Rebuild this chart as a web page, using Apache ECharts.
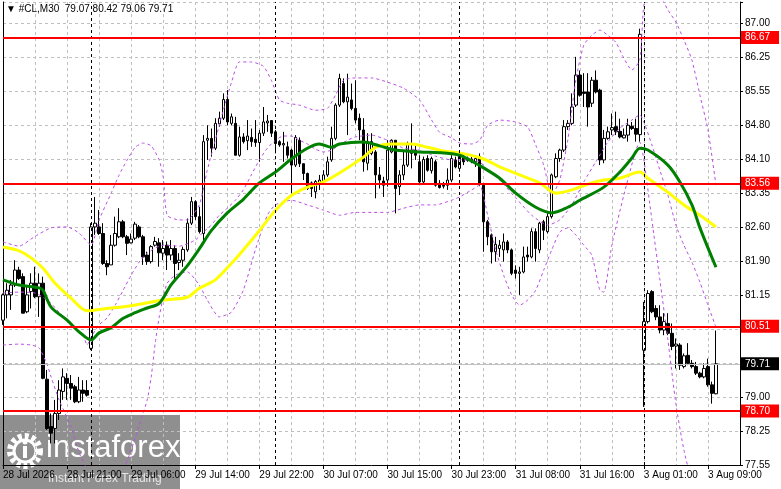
<!DOCTYPE html>
<html lang="en">
<head>
	<meta charset="UTF-8">
	<title>#CL,M30</title>
	<script src="https://cdn.jsdelivr.net/npm/echarts@6/dist/echarts.min.js"></script>
	<style>
		html, body { margin: 0; padding: 0; background: #fff; }
		#main { width: 781px; height: 489px; }
	</style>
</head>
<body>
	<div id="main"></div>
	<script>
		// 30 minute bars (bar 0 = 28 Jul 13:00, bar 178 = 3 Aug 10:00)
		var opens = [
			80.64, 81.18, 81.18, 81.39, 81.71, 81.57, 80.82, 81.25, 81.43, 81.14,
			81.43, 79.38, 78.37, 78.33, 78.65, 79.12, 79.40, 79.29, 79.22, 78.90,
			79.15, 79.14, 80.04, 82.63, 82.63, 82.49, 81.85, 81.82, 82.24, 82.42,
			82.74, 82.42, 82.29, 82.39, 82.63, 82.42, 82.03, 81.89, 82.24, 82.29,
			82.07, 82.24, 82.03, 82.17, 81.87, 81.92, 82.14, 82.71, 83.17, 82.85,
			82.49, 84.48, 84.52, 84.31, 84.83, 84.95, 85.35, 84.84, 84.84, 84.16,
			84.55, 84.47, 84.54, 84.50, 84.43, 84.63, 84.85, 84.90, 84.66, 84.45,
			84.38, 84.34, 84.27, 83.95, 84.48, 83.98, 83.77, 83.57, 83.38, 83.56,
			83.60, 83.74, 84.06, 84.52, 85.23, 85.69, 85.30, 85.34, 85.16, 84.95,
			84.70, 83.99, 84.20, 84.23, 83.74, 83.61, 83.63, 84.23, 84.48, 83.49,
			83.74, 83.95, 84.20, 84.27, 84.02, 83.59, 84.09, 83.83, 84.02, 83.56,
			83.52, 83.52, 83.63, 84.06, 83.88, 84.14, 84.05, 84.08, 84.02, 84.13,
			83.52, 82.74, 82.46, 82.10, 82.17, 82.14, 82.31, 82.14, 81.71, 81.64,
			81.67, 82.03, 81.99, 82.53, 82.14, 82.74, 82.53, 82.85, 83.70, 84.09,
			84.27, 84.77, 84.84, 85.23, 85.87, 85.51, 85.51, 85.27, 85.76, 85.55,
			84.06, 84.52, 84.70, 84.77, 84.67, 84.53, 84.59, 84.78, 84.73, 84.60,
			80.00, 80.61, 81.25, 80.89, 80.71, 80.43, 80.57, 80.36, 80.09, 80.11,
			79.65, 79.89, 79.72, 79.65, 79.51, 79.43, 79.65, 79.26, 79.07
		]
		var closes = [
			81.18, 81.28, 81.39, 81.71, 81.53, 80.79, 81.18, 81.43, 81.14, 81.43,
			79.40, 78.33, 78.23, 78.65, 79.15, 79.43, 79.29, 79.19, 78.90, 79.15,
			79.08, 79.04, 82.63, 82.71, 82.49, 81.85, 81.78, 82.24, 82.49, 82.74,
			82.42, 82.28, 82.37, 82.69, 82.42, 81.99, 81.89, 82.21, 82.32, 82.08,
			82.17, 82.03, 82.17, 81.85, 81.92, 82.15, 82.71, 83.17, 82.85, 82.53,
			84.45, 84.52, 84.31, 84.84, 84.95, 85.35, 84.87, 84.98, 84.16, 84.55,
			84.45, 84.57, 84.45, 84.43, 84.63, 84.87, 84.89, 84.63, 84.41, 84.38,
			84.41, 84.16, 83.95, 84.54, 83.98, 83.77, 83.45, 83.45, 83.60, 83.63,
			83.74, 84.02, 84.52, 85.23, 85.80, 85.30, 85.40, 85.16, 84.91, 84.70,
			84.02, 84.45, 84.45, 83.74, 83.63, 83.52, 84.27, 84.48, 83.45, 83.74,
			83.95, 84.41, 84.27, 84.16, 83.59, 84.07, 83.84, 84.09, 83.52, 83.47,
			83.50, 83.63, 84.09, 83.91, 84.16, 84.02, 84.07, 84.02, 84.09, 83.56,
			82.74, 82.42, 82.10, 82.26, 82.24, 82.31, 82.14, 81.64, 81.64, 81.67,
			81.99, 81.99, 82.53, 82.17, 82.71, 82.56, 82.85, 83.74, 84.09, 84.27,
			84.77, 84.84, 85.19, 85.87, 85.44, 85.48, 85.19, 85.76, 85.51, 84.06,
			84.52, 84.66, 84.75, 84.66, 84.55, 84.59, 84.80, 84.73, 84.61, 86.74,
			80.61, 81.21, 80.82, 80.71, 80.43, 80.61, 80.36, 80.08, 80.13, 79.68,
			79.88, 79.72, 79.65, 79.51, 79.43, 79.61, 79.26, 79.08, 79.71
		]
		var lows = [
			80.54, 80.68, 80.86, 81.35, 81.50, 80.79, 80.79, 80.89, 81.11, 80.71,
			79.38, 78.30, 78.01, 78.01, 78.51, 78.94, 78.94, 78.94, 78.87, 78.87,
			78.90, 79.01, 80.00, 82.46, 82.46, 81.82, 81.60, 81.82, 82.21, 82.39,
			82.39, 82.03, 82.28, 82.35, 82.39, 81.82, 81.82, 81.85, 82.21, 81.78,
			81.92, 81.71, 81.92, 81.50, 81.71, 81.78, 82.10, 82.67, 82.78, 82.49,
			82.35, 84.06, 84.13, 84.27, 84.77, 84.91, 84.80, 84.80, 84.16, 84.13,
			84.41, 84.27, 84.34, 84.34, 84.02, 84.57, 84.66, 84.55, 84.20, 84.34,
			84.02, 84.09, 83.35, 83.91, 83.91, 83.63, 83.42, 83.27, 83.24, 83.42,
			83.56, 83.70, 84.02, 84.48, 85.19, 85.27, 84.59, 85.12, 84.84, 84.48,
			83.81, 83.84, 84.16, 83.24, 83.45, 83.27, 83.49, 84.20, 82.92, 83.31,
			83.63, 83.91, 83.88, 84.06, 83.52, 83.56, 83.81, 83.77, 83.49, 83.45,
			83.45, 83.42, 83.59, 83.88, 83.81, 83.95, 84.02, 83.99, 83.91, 83.50,
			82.10, 82.24, 81.85, 81.89, 81.99, 81.89, 82.07, 81.60, 81.53, 81.18,
			81.64, 81.89, 81.96, 81.89, 82.07, 82.35, 82.49, 82.81, 83.67, 84.02,
			84.23, 84.70, 84.80, 85.19, 85.41, 85.19, 84.77, 85.19, 85.48, 83.95,
			83.99, 84.49, 84.59, 84.59, 84.52, 84.52, 84.45, 84.70, 84.45, 84.45,
			78.79, 80.57, 80.79, 80.64, 80.36, 80.32, 80.32, 80.00, 79.61, 79.58,
			79.61, 79.68, 79.61, 79.47, 79.40, 79.40, 79.22, 78.86, 79.06
		]
		var highs = [
			81.21, 81.43, 81.50, 81.92, 81.78, 81.64, 81.35, 81.64, 81.78, 81.64,
			81.57, 79.58, 78.65, 78.94, 79.36, 79.61, 79.51, 79.47, 79.26, 79.43,
			79.36, 79.36, 82.71, 83.27, 82.99, 82.71, 81.92, 82.46, 82.85, 83.03,
			82.78, 82.46, 82.49, 82.74, 82.67, 82.46, 82.10, 82.24, 82.42, 82.39,
			82.35, 82.32, 82.35, 82.24, 82.07, 82.21, 82.81, 83.27, 83.20, 83.06,
			84.59, 84.80, 84.73, 84.95, 85.09, 85.48, 85.55, 85.05, 84.98, 84.77,
			84.63, 84.91, 84.73, 84.91, 84.70, 85.19, 85.02, 84.91, 84.70, 84.48,
			84.66, 84.45, 84.30, 84.59, 84.54, 83.98, 83.79, 83.60, 83.63, 83.74,
			83.84, 84.13, 84.77, 85.27, 85.90, 85.80, 85.90, 85.69, 85.76, 85.05,
			84.95, 84.63, 84.63, 84.27, 83.91, 83.70, 84.48, 84.50, 84.48, 83.84,
			84.27, 84.45, 84.84, 84.41, 84.16, 84.13, 84.16, 84.13, 84.06, 83.63,
			83.59, 83.88, 84.16, 84.13, 84.23, 84.20, 84.13, 84.13, 84.16, 84.20,
			83.56, 82.78, 82.49, 82.42, 82.35, 82.49, 82.35, 82.17, 81.81, 81.78,
			82.21, 82.21, 82.60, 82.60, 82.74, 82.78, 82.92, 83.77, 84.20, 84.30,
			84.91, 84.91, 85.48, 86.26, 85.97, 85.91, 85.91, 85.83, 85.97, 85.58,
			84.70, 84.77, 85.05, 85.09, 84.94, 84.73, 84.94, 84.87, 84.94, 86.86,
			81.03, 81.28, 81.28, 80.96, 80.96, 80.79, 80.79, 80.57, 80.25, 80.15,
			79.93, 80.15, 79.79, 79.75, 79.54, 79.72, 79.82, 79.33, 80.42
		]

		// indicator lines, sampled as [bar, price]
		var maGreen = [
			[0, 81.50], [4, 81.39], [9, 81.33], [10, 81.28], [12, 80.92], [16, 80.64], [19, 80.39],
			[22, 80.22], [24, 80.37], [27, 80.48], [30, 80.68], [33, 80.80], [36, 80.90], [39, 81.00],
			[42, 81.40], [46, 81.80], [49, 82.16], [52, 82.55], [56, 82.93], [60, 83.22], [64, 83.57],
			[68, 83.80], [72, 84.08], [76, 84.31], [79, 84.40], [82, 84.33], [84, 84.40], [90, 84.44],
			[94, 84.36], [98, 84.27], [104, 84.23], [110, 84.21], [114, 84.16], [118, 83.99], [120, 83.89],
			[124, 83.67], [128, 83.35], [133, 83.05], [137, 82.93], [141, 83.05], [144, 83.20], [150, 83.48],
			[154, 83.80], [157, 84.10], [159, 84.31], [161, 84.27], [166, 83.95], [169, 83.59], [172, 83.10],
			[174, 82.61], [178, 81.77]
		]
		var maYellow = [
			[0, 82.20], [4, 82.12], [7, 81.97], [10, 81.75], [13, 81.43], [17, 81.11], [21, 80.84],
			[24, 80.87], [32, 80.95], [40, 81.07], [46, 81.13], [49, 81.32], [53, 81.50], [57, 81.85],
			[60, 82.14], [64, 82.55], [68, 82.98], [72, 83.30], [76, 83.48], [80, 83.59], [84, 83.78],
			[90, 84.12], [93, 84.33], [97, 84.40], [102, 84.40], [106, 84.33], [110, 84.25], [114, 84.21],
			[120, 84.08], [124, 83.91], [129, 83.74], [134, 83.57], [138, 83.35], [142, 83.42], [147, 83.57],
			[150, 83.63], [154, 83.67], [159, 83.80], [161, 83.67], [166, 83.37], [170, 83.10], [174, 82.88],
			[178, 82.63]
		]
		var bbUpper = [
			[0, 82.31], [4, 82.22], [8, 82.43], [12, 82.61], [16, 82.63], [19, 82.50], [22, 82.24],
			[24, 82.78], [27, 83.35], [29, 83.74], [31, 84.06], [33, 84.33], [35, 84.42], [37, 84.36],
			[39, 84.06], [40, 83.69], [41, 82.88], [44, 82.78], [46, 82.78], [49, 83.10], [51, 83.84],
			[53, 84.48], [55, 85.12], [57, 85.70], [59, 86.15], [62, 86.15], [65, 86.06], [67, 85.76],
			[69, 85.34], [71, 85.27], [74, 85.23], [78, 85.12], [81, 85.16], [83, 85.44], [85, 85.76],
			[88, 85.81], [92, 85.81], [96, 85.72], [100, 85.59], [104, 85.34], [107, 84.91], [109, 84.65],
			[112, 84.53], [114, 84.42], [117, 84.40], [119, 84.48], [121, 84.80], [124, 84.91], [128, 84.87],
			[131, 84.76], [133, 84.38], [135, 83.95], [137, 83.31], [139, 83.63], [141, 84.48], [143, 85.76],
			[145, 86.51], [147, 86.72], [149, 86.83], [151, 86.72], [153, 86.57], [155, 86.23], [157, 85.98],
			[159, 86.19], [160, 87.36], [162, 87.79], [164, 87.58], [166, 87.26], [168, 87.00], [170, 86.62],
			[172, 86.19], [174, 85.44], [176, 84.70], [178, 83.52]
		]
		var bbMiddle = [
			[0, 81.22], [4, 81.24], [8, 81.22], [10, 81.13], [12, 81.00], [14, 80.81], [16, 80.64],
			[18, 80.47], [20, 80.32], [21, 80.11], [22, 80.28], [24, 80.54], [26, 80.69], [28, 80.96],
			[30, 81.28], [32, 81.60], [34, 81.88], [36, 82.07], [38, 82.18], [40, 82.24], [44, 82.22],
			[48, 82.35], [50, 82.52], [52, 82.67], [54, 82.88], [56, 83.03], [58, 83.20], [60, 83.42],
			[62, 83.74], [64, 84.06], [66, 84.31], [68, 84.48], [70, 84.57], [72, 84.57], [74, 84.48],
			[76, 84.40], [78, 84.29], [80, 84.23], [82, 84.27], [84, 84.38], [86, 84.48], [88, 84.55],
			[92, 84.59], [96, 84.48], [100, 84.31], [104, 84.27], [108, 84.14], [112, 84.06], [116, 84.06],
			[119, 84.02], [121, 83.84], [124, 83.63], [128, 83.25], [132, 82.88], [136, 82.67], [139, 82.78],
			[142, 83.10], [145, 83.59], [148, 84.02], [151, 84.44], [154, 84.74], [157, 84.91], [159, 85.02],
			[160, 84.87], [162, 84.38], [164, 83.84], [166, 83.31], [168, 82.67], [170, 82.24], [172, 81.88],
			[174, 81.45], [176, 80.96], [178, 80.49]
		]
		var bbLower = [
			[0, 80.11], [4, 80.13], [7, 80.11], [9, 80.05], [11, 79.70], [12, 79.43], [14, 78.94],
			[17, 78.36], [19, 77.81], [21, 77.45], [23, 77.02], [26, 76.91], [29, 77.23], [32, 77.87],
			[34, 78.40], [36, 78.94], [37, 79.43], [38, 80.15], [39, 80.71], [40, 81.13], [41, 81.43],
			[43, 81.60], [46, 81.67], [49, 81.39], [51, 81.07], [54, 80.71], [57, 80.81], [60, 81.28],
			[63, 82.14], [66, 82.88], [68, 83.10], [72, 83.20], [76, 83.10], [80, 82.99], [84, 82.88],
			[88, 82.94], [92, 82.94], [96, 82.94], [100, 83.03], [104, 83.10], [108, 83.10], [112, 83.20],
			[114, 83.27], [117, 83.42], [119, 83.52], [121, 82.88], [123, 82.14], [125, 81.60], [127, 81.18],
			[129, 80.96], [131, 81.07], [133, 81.28], [135, 81.71], [137, 82.14], [139, 82.52], [141, 82.61],
			[143, 82.46], [145, 82.24], [147, 82.03], [149, 81.28], [150, 81.24], [152, 82.24], [155, 83.31],
			[158, 84.27], [159, 84.44], [160, 84.06], [162, 82.78], [164, 81.50], [166, 80.22], [168, 78.85],
			[170, 77.87], [172, 77.23], [175, 76.91], [178, 77.12]
		]

		// axes
		var slotCount = 185
		var xTickStep = 16
		var xTickLabels = ['28 Jul 2026', '28 Jul 21:00', '29 Jul 06:00', '29 Jul 14:00', '29 Jul 22:00', '30 Jul 07:00',
			'30 Jul 15:00', '30 Jul 23:00', '31 Jul 08:00', '31 Jul 16:00', '3 Aug 01:00', '3 Aug 09:00']
		var yMin = 77.55, yMax = 87.43, yStep = 0.725
		var yTickLabels = ['77.55', '78.25', '79.00', '79.70', '80.45', '81.15', '81.90',
			'82.60', '83.35', '84.10', '84.80', '85.55', '86.25', '87.00']

		// drawn objects
		var daySeparators = [22, 68, 114, 160]
		var levels = [86.67, 83.56, 80.51, 78.70]
		var lastPrice = 79.71

		var FONT = 'Liberation Sans'
		var categories = []
		for (var i = 0; i < slotCount; i++) categories.push(String(i))

		var candles = opens.map(function (o, i) { return [o, closes[i], lows[i], highs[i]] })

		function priceTag(bg, text) {
			return {
				show: true, position: 'end', distance: 1, formatter: text,
				backgroundColor: bg, color: 'rgb(255,255,255)',
				padding: [2, 9, 1, 4], fontSize: 10, fontFamily: FONT
			}
		}

		var marks = []
		daySeparators.forEach(function (d) {
			marks.push({ xAxis: d, lineStyle: { color: '#000', width: 1, type: [3, 3] }, label: { show: false } })
		})
		levels.forEach(function (v) {
			marks.push({ yAxis: v, lineStyle: { color: '#ff0000', width: 2, type: 'solid' },
				label: priceTag('rgb(255,0,0)', v.toFixed(2)) })
		})

		function band(data) {
			return {
				type: 'line', data: data, smooth: 0.2, symbol: 'none', silent: true, z: 3,
				lineStyle: { color: '#b94fe3', width: 1, type: [3, 3] }
			}
		}

		var myChart = echarts.init(document.getElementById('main'))
		var option = {
			animation: false,
			backgroundColor: '#fff',
			grid: { left: 3, right: 41, top: 2, bottom: 24 },
			xAxis: {
				type: 'category',
				data: categories,
				boundaryGap: false,
				axisLine: { lineStyle: { color: '#000', width: 1 } },
				axisTick: { show: true, length: 4, interval: function (i) { return i % xTickStep === 0 },
					lineStyle: { color: '#000' } },
				axisLabel: {
					interval: function (i) { return i % xTickStep === 0 },
					formatter: function (v) { return xTickLabels[Number(v) / xTickStep] || '' },
					align: 'left', margin: 5, color: '#000', fontSize: 10, fontFamily: FONT
				},
				splitLine: { show: true, interval: function (i) { return i % 8 === 0 },
					lineStyle: { color: '#c0c0c0', type: [3, 3], width: 1 } }
			},
			yAxis: [
				{
					type: 'value', position: 'right', min: yMin, max: yMax, interval: yStep,
					axisLine: { show: true, lineStyle: { color: '#000', width: 1 } },
					axisTick: { show: true, length: 3, lineStyle: { color: '#000' } },
					axisLabel: {
						margin: 5, color: '#000', fontSize: 10, fontFamily: FONT,
						formatter: function (v) {
							var k = Math.round((v - yMin) / yStep)
							if (Math.abs(yMin + k * yStep - v) > 0.01) return ''
							return yTickLabels[k] || ''
						}
					},
					splitLine: { show: true, lineStyle: { color: '#c0c0c0', type: [3, 3], width: 1 } }
				},
				{
					type: 'value', position: 'left', min: yMin, max: yMax,
					axisLine: { show: true, lineStyle: { color: '#000', width: 1 } },
					axisTick: { show: false }, axisLabel: { show: false }, splitLine: { show: false }
				}
			],
			series: [
				{
					type: 'candlestick',
					data: candles,
					barWidth: 3,
					z: 2,
					itemStyle: { color: '#fff', color0: '#000', borderColor: '#000', borderColor0: '#000', borderWidth: 1 },
					markLine: { symbol: ['none', 'none'], silent: true, animation: false, data: marks }
				},
				band(bbUpper),
				band(bbMiddle),
				band(bbLower),
				{
					type: 'line', data: maYellow, smooth: 0.3, symbol: 'none', silent: true, z: 4,
					lineStyle: { color: '#ffff00', width: 3 }
				},
				{
					type: 'line', data: maGreen, smooth: 0.3, symbol: 'none', silent: true, z: 4,
					lineStyle: { color: '#008000', width: 3 },
					// last price line with its black tag
					markLine: {
						symbol: ['none', 'none'], silent: true, animation: false,
						lineStyle: { color: '#c0c0c0', width: 1, type: 'solid' },
						label: priceTag('rgb(0,0,0)', lastPrice.toFixed(2)),
						data: [{ yAxis: lastPrice }]
					}
				}
			],
			graphic: [
				{
					type: 'text', left: 6, top: 4, z: 20,
					style: { text: '\u25BC #CL,M30  79.07 80.42 79.06 79.71', fontSize: 10, fontFamily: FONT, fill: '#000' }
				},
				{
					type: 'group', left: 0, top: 415, z: 30,
					children: [
						{ type: 'rect', shape: { x: 0, y: 0, width: 180, height: 74 }, style: { fill: 'rgba(51,51,51,0.55)' } },
						{ type: 'circle', shape: { cx: 25, cy: 36, r: 15 }, style: { fill: 'none', stroke: '#fff', lineWidth: 6, lineDash: [4, 3] } },
						{ type: 'circle', shape: { cx: 25, cy: 36, r: 11 }, style: { fill: 'none', stroke: '#fff', lineWidth: 3 } },
						{ type: 'rect', shape: { x: 23, y: 31, width: 4, height: 12 }, style: { fill: '#fff' } },
						{ type: 'circle', shape: { cx: 25, cy: 27, r: 2.5 }, style: { fill: '#fff' } },
						{ type: 'text', x: 46, y: 18, style: { text: 'instaforex', fontSize: 31, fontFamily: FONT, fill: '#fff' } },
						{ type: 'text', x: 48, y: 58, style: { text: 'Instant Forex Trading', fontSize: 12, fontFamily: FONT, fill: '#e6e6e6' } }
					]
				}
			]
		}
		myChart.setOption(option)
	</script>
</body>
</html>
